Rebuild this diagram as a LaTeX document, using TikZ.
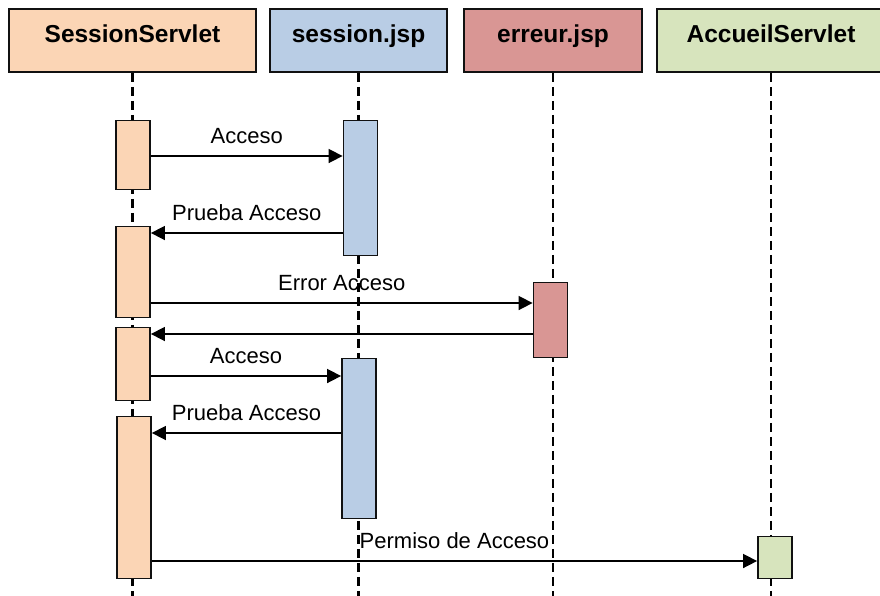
\documentclass[tikz,border=0pt]{standalone}
\usepackage{fontspec}
\setmainfont{Liberation Sans}
\usetikzlibrary{arrows.meta}

\definecolor{peach}{HTML}{FBD5B5}
\definecolor{steel}{HTML}{B9CDE5}
\definecolor{rose}{HTML}{D99694}
\definecolor{sage}{HTML}{D7E4BD}
\definecolor{ink}{HTML}{111111}

\tikzset{
  hdr/.style={draw=ink, line width=1.8pt, inner sep=0pt, minimum height=63pt},
  htext/.style={anchor=base, inner sep=0pt, font=\fontsize{24.5}{28}\selectfont\bfseries},
  act/.style={draw=ink, line width=1.8pt, inner sep=0pt, minimum width=34pt},
  lifeline/.style={line width=2.1pt, dash pattern=on 9pt off 5pt},
  msg/.style={line width=1.6pt, -{Triangle[length=14pt,width=14pt]}},
  lbl/.style={midway, anchor=base, yshift=12.5pt, inner sep=0pt,
              font=\fontsize{22}{26}\selectfont}
}

\begin{document}
\begin{tikzpicture}[x=1pt, y=-1pt]
  \useasboundingbox (0,0) rectangle (880,595);

  % header boxes
  \node[hdr, fill=peach, minimum width=247pt] (h1) at (132.5,40.5) {};
  \node[hdr, fill=steel, minimum width=177pt] (h2) at (358.5,40.5) {};
  \node[hdr, fill=rose,  minimum width=178pt] (h3) at (553,40.5) {};
  \node[hdr, fill=sage,  minimum width=228pt] (h4) at (771,40.5) {};

  \coordinate (tb) at (0,42);
  \node[htext] (t1) at (h1.center |- tb) {SessionServlet};
  \node[htext] (t2) at (h2.center |- tb) {session.jsp};
  \node[htext] (t3) at (h3.center |- tb) {erreur.jsp};
  \node[htext] (t4) at (h4.center |- tb) {AccueilServlet};

  % lifelines
  \coordinate (bot) at (0,596);
  \foreach \h in {h1,h2,h3,h4}
    \draw[lifeline] (\h.south) -- (\h.south |- bot);

  % activation bars
  \node[act, fill=peach, minimum height=69pt]  (s1) at (133,155) {};
  \node[act, fill=peach, minimum height=91pt]  (s2) at (133,272) {};
  \node[act, fill=peach, minimum height=73pt]  (s3) at (133,364) {};
  \node[act, fill=peach, minimum height=162pt] (s4) at (134,497.5) {};
  \node[act, fill=steel, minimum height=135pt] (j1) at (360.5,188) {};
  \node[act, fill=steel, minimum height=160pt] (j2) at (359,438.5) {};
  \node[act, fill=rose,  minimum height=75pt]  (e1) at (550.5,320) {};
  \node[act, fill=sage,  minimum height=42pt]  (a1) at (775,557.5) {};

  % message heights
  \coordinate (m1) at (0,156);
  \coordinate (m2) at (0,233);
  \coordinate (m3) at (0,303);
  \coordinate (m4) at (0,334);
  \coordinate (m5) at (0,376);
  \coordinate (m6) at (0,433);
  \coordinate (m7) at (0,561);

  % messages
  \draw[msg] (s1.east |- m1) -- node[lbl] {Acceso} (j1.west |- m1);
  \draw[msg] (j1.west |- m2) -- node[lbl] {Prueba Acceso} (s2.east |- m2);
  \draw[msg] (s2.east |- m3) -- node[lbl] {Error Acceso} (e1.west |- m3);
  \draw[msg] (e1.west |- m4) -- (s3.east |- m4);
  \draw[msg] (s3.east |- m5) -- node[lbl] {Acceso} (j2.west |- m5);
  \draw[msg] (j2.west |- m6) -- node[lbl] {Prueba Acceso} (s4.east |- m6);
  \draw[msg] (s4.east |- m7) -- node[lbl] {Permiso de Acceso} (a1.west |- m7);
\end{tikzpicture}
\end{document}
